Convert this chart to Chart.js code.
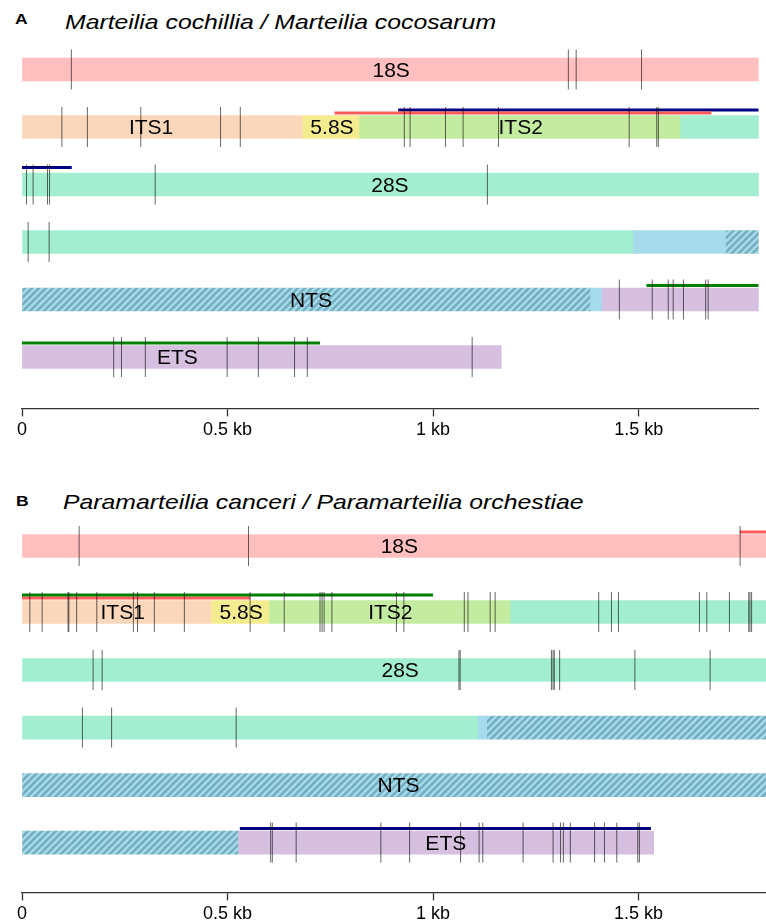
<!DOCTYPE html>
<html>
<head>
<meta charset="utf-8">
<script src="https://cdn.jsdelivr.net/npm/chart.js@4.4.1/dist/chart.umd.min.js"></script>
<style>
body { margin:0; width:766px; height:921px; overflow:hidden; background:#fff; font-family:"Liberation Sans", Arial, sans-serif; }
.tag, .ttl { position:absolute; white-space:nowrap; transform-origin:0 0; color:#000; }
.tag { font-weight:bold; font-size:14px; line-height:14px; transform:scaleX(1.25); }
.ttl { font-style:italic; font-size:21px; line-height:21px; transform:scaleX(1.18); }
canvas { position:absolute; left:0; }
</style>
</head>
<body>
<div class="tag" style="left:15px;top:12px">A</div>
<div class="ttl" style="left:65px;top:11px">Marteilia cochillia / Marteilia cocosarum</div>
<canvas id="chartA" width="766" height="404" style="top:40px"></canvas>
<div class="tag" style="left:16px;top:494px">B</div>
<div class="ttl" style="left:63px;top:491px">Paramarteilia canceri / Paramarteilia orchestiae</div>
<canvas id="chartB" width="766" height="412" style="top:516px"></canvas>
<script>
// kb axis
const tickVals = [0, 0.5, 1, 1.5];
const tickText = ['0', '0.5 kb', '1 kb', '1.5 kb'];

// region colours, 'rep' = hatched repeat region
const fills = {
  '18S': '#ffbfbf', 'ITS1': '#fad6ba', '5.8S': '#f5ec8f', 'ITS2': '#c4eca0',
  '28S': '#a3edd0', 'NTS': '#a5dbeb', 'ETS': '#d6bfdf'
};
const primerColors = { red: '#ff5b5b', navy: '#000080', green: '#008000' };

// ---- panel A: Marteilia cochillia / M. cocosarum ----
const rowsA = [0, 1, 2, 3, 4, 5];
// [row, start kb, end kb, region]
const segsA = [
  [0, 0, 1.792, '18S'],
  [1, 0, 0.683, 'ITS1'], [1, 0.683, 0.821, '5.8S'], [1, 0.821, 1.602, 'ITS2'], [1, 1.602, 1.792, '28S'],
  [2, 0, 1.792, '28S'],
  [3, 0, 1.487, '28S'], [3, 1.487, 1.713, 'NTS'], [3, 1.713, 1.792, 'rep'],
  [4, 0, 1.383, 'rep'], [4, 1.383, 1.411, 'NTS'], [4, 1.411, 1.792, 'ETS'],
  [5, 0, 1.166, 'ETS']
];
// [row, kb, text]
const namesA = [
  [0, 0.898, '18S'], [1, 0.314, 'ITS1'], [1, 0.754, '5.8S'], [1, 1.213, 'ITS2'],
  [2, 0.895, '28S'], [4, 0.703, 'NTS'], [5, 0.378, 'ETS']
];
// variable sites per row (kb)
const snpsA = [
  [0.120, 1.329, 1.348, 1.507],
  [0.097, 0.159, 0.289, 0.483, 0.531, 0.930, 0.944, 1.030, 1.073, 1.159, 1.477, 1.544, 1.548],
  [0.011, 0.027, 0.062, 0.067, 0.324, 1.132],
  [0.015, 0.066],
  [1.453, 1.533, 1.572, 1.584, 1.609, 1.663, 1.669],
  [0.223, 0.242, 0.300, 0.499, 0.575, 0.663, 0.694, 1.095]
];
// [row, level, start kb, end kb, colour]
const primersA = [
  [1, 1, 0.760, 1.677, 'red'], [1, 2, 0.915, 1.792, 'navy'], [2, 2, 0, 0.121, 'navy'],
  [4, 1, 1.519, 1.792, 'green'], [5, 1, 0, 0.725, 'green']
];

// ---- panel B: Paramarteilia canceri / P. orchestiae ----
const rowsB = [0, 1.148, 2.157, 3.157, 4.157, 5.157];
const segsB = [
  [0, 0, 1.81, '18S'],
  [1, 0, 0.461, 'ITS1'], [1, 0.461, 0.602, '5.8S'], [1, 0.602, 1.189, 'ITS2'], [1, 1.189, 1.81, '28S'],
  [2, 0, 1.81, '28S'],
  [3, 0, 1.110, '28S'], [3, 1.110, 1.132, 'NTS'], [3, 1.132, 1.81, 'rep'],
  [4, 0, 1.81, 'rep'],
  [5, 0, 0.527, 'rep'], [5, 0.527, 1.537, 'ETS']
];
const namesB = [
  [0, 0.918, '18S'], [1, 0.245, 'ITS1'], [1, 0.533, '5.8S'], [1, 0.896, 'ITS2'],
  [2, 0.92, '28S'], [4, 0.916, 'NTS'], [5, 1.031, 'ETS']
];
const snpsB = [
  [0.139, 0.551, 1.747],
  [0.019, 0.049, 0.112, 0.114, 0.133, 0.182, 0.271, 0.281, 0.322, 0.395, 0.555, 0.638, 0.725, 0.730,
   0.735, 0.754, 0.911, 0.929, 1.076, 1.085, 1.139, 1.151, 1.403, 1.434, 1.451, 1.648, 1.666, 1.721,
   1.768, 1.771, 1.775],
  [0.173, 0.195, 1.063, 1.066, 1.288, 1.292, 1.295, 1.308, 1.491, 1.674],
  [0.147, 0.218, 0.521],
  [],
  [0.605, 0.609, 0.667, 0.873, 0.943, 1.067, 1.112, 1.121, 1.219, 1.292, 1.310, 1.317, 1.334, 1.393,
   1.417, 1.447, 1.498, 1.502]
];
const primersB = [
  [0, 1, 1.746, 1.81, 'red'], [1, 2, 0, 1.0, 'green'], [1, 1, 0, 0.555, 'red'], [5, 1, 0.530, 1.530, 'navy']
];

// how far above the row centre a primer line sits (row units)
const lift = [0, 0.243, 0.296];

Chart.defaults.font.family = '"Liberation Sans", Arial, sans-serif';

function hatch(ctx) {
  const n = 7;
  const c = document.createElement('canvas');
  c.width = n; c.height = n;
  const g = c.getContext('2d');
  g.fillStyle = '#a5dbeb';
  g.fillRect(0, 0, n, n);
  g.strokeStyle = '#76aec1';
  g.lineWidth = 2.6;
  g.beginPath();
  g.moveTo(-n / 2, n / 2); g.lineTo(n / 2, -n / 2);
  g.moveTo(0, n); g.lineTo(n, 0);
  g.moveTo(n / 2, n * 1.5); g.lineTo(n * 1.5, n / 2);
  g.stroke();
  return ctx.createPattern(c, 'repeat');
}

function labelPlugin(names, rows) {
  return {
    id: 'segLabels',
    afterDatasetsDraw(chart) {
      const {ctx, scales: {x, y}} = chart;
      ctx.save();
      ctx.font = '21px "Liberation Sans", Arial, sans-serif';
      ctx.fillStyle = '#000';
      ctx.textAlign = 'center';
      ctx.textBaseline = 'middle';
      names.forEach(n => ctx.fillText(n[2], x.getPixelForValue(n[1]), y.getPixelForValue(rows[n[0]]) + 1.5));
      ctx.restore();
    }
  };
}

function drawPanel(id, rows, segs, names, snps, primers, xMax, padRight, yMin, yMax) {
  const canvas = document.getElementById(id);
  const fill = Object.assign({}, fills, { rep: hatch(canvas.getContext('2d')) });

  const datasets = [{
    type: 'bar',
    data: segs.map(s => ({ x: [s[1], s[2]], y: rows[s[0]] })),
    backgroundColor: segs.map(s => fill[s[3]]),
    barThickness: 23,
    borderWidth: 0,
    borderSkipped: false,
    order: 3
  }];

  primers.forEach(p => {
    const yy = rows[p[0]] - lift[p[1]];
    datasets.push({
      type: 'line',
      data: [{ x: p[2], y: yy }, { x: p[3], y: yy }],
      borderColor: primerColors[p[4]],
      borderWidth: 3,
      borderCapStyle: 'butt',
      pointRadius: 0,
      order: 2
    });
  });

  datasets.push({
    type: 'scatter',
    data: snps.flatMap((xs, r) => xs.map(v => ({ x: v, y: rows[r] }))),
    pointStyle: 'line',
    pointRotation: 90,
    pointRadius: 20,
    pointBorderWidth: 1,
    pointBorderColor: 'rgba(0,0,0,0.6)',
    order: 1
  });

  new Chart(canvas, {
    type: 'bar',
    data: { datasets },
    options: {
      responsive: false,
      animation: false,
      events: [],
      indexAxis: 'y',
      layout: { autoPadding: false, padding: { left: 22, right: padRight, top: 0, bottom: 0 } },
      plugins: { legend: { display: false }, tooltip: { enabled: false } },
      scales: {
        x: {
          type: 'linear', min: 0, max: xMax,
          afterBuildTicks: s => { s.ticks = tickVals.map(v => ({ value: v })); },
          afterFit: s => { s.paddingLeft = 0; s.paddingRight = 0; },
          ticks: { callback: (v, i) => tickText[i], color: '#000', font: { size: 18 }, padding: 3, maxRotation: 0, autoSkip: false },
          grid: { drawOnChartArea: false, drawTicks: true, tickLength: 8, color: '#333', tickWidth: 1.3 },
          border: { display: true, color: '#333', width: 1.3 }
        },
        y: { type: 'linear', display: false, reverse: true, min: yMin, max: yMax, offset: false, grid: { offset: false } }
      }
    },
    plugins: [labelPlugin(names, rows)]
  });
}

drawPanel('chartA', rowsA, segsA, namesA, snpsA, primersA, 1.792, 7.3, -0.513, 5.894);
drawPanel('chartB', rowsB, segsB, namesB, snpsB, primersB, 1.81, 0, -0.522, 6.024);
</script>
</body>
</html>
